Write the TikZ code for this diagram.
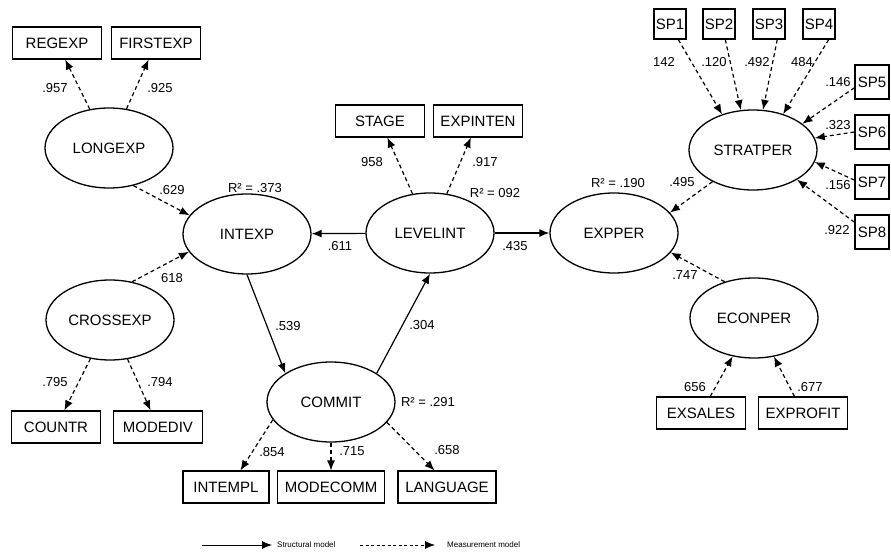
\documentclass[tikz,border=0pt]{standalone}
\usepackage{fontspec}
\setmainfont{Liberation Sans}
\usetikzlibrary{arrows.meta,shapes.geometric}

\begin{document}
\begin{tikzpicture}[x=1pt,y=-1pt,
	every node/.style={font=\fontsize{15}{18}\selectfont},
	latent/.style={ellipse, draw=black, line width=1.3pt, minimum width=128pt, minimum height=80pt, inner sep=0pt},
	obs/.style={rectangle, draw=black, line width=1.1pt, minimum width=89pt, minimum height=32pt, inner sep=0pt},
	sp/.style={obs, minimum width=32pt, minimum height=30pt},
	coef/.style={font=\fontsize{13}{15}\selectfont, inner sep=0pt},
	legend/.style={font=\fontsize{8}{10}\selectfont, inner sep=0pt, anchor=west}]
	
	\tikzset{struct/.style = {->,> = {Latex[length=10pt,width=8pt]}, line width=1.2pt},
		meas/.style = {->,> = {Latex[length=10pt,width=8pt]}, line width=1.2pt, dash pattern=on 4pt off 3pt}}
	
	\useasboundingbox (0,0) rectangle (891,556);
	
	% latent variables
	\node[latent] (longexp)  at (109,148) {LONGEXP};
	\node[latent] (crossexp) at (110,320) {CROSSEXP};
	\node[latent] (intexp)   at (247,234) {INTEXP};
	\node[latent] (levelint) at (430,233) {LEVELINT};
	\node[latent] (commit)   at (331,402) {COMMIT};
	\node[latent] (expper)   at (614,233) {EXPPER};
	\node[latent] (stratper) at (753,150) {STRATPER};
	\node[latent] (econper)  at (754,318) {ECONPER};
	
	% indicators
	\node[obs] (regexp)   at (57,43)   {REGEXP};
	\node[obs] (firstexp) at (156,43)  {FIRSTEXP};
	\node[obs] (countr)   at (56,427)  {COUNTR};
	\node[obs] (modediv)  at (158,427) {MODEDIV};
	\node[obs] (stage)    at (380,121) {STAGE};
	\node[obs] (expinten) at (478,121) {EXPINTEN};
	\node[obs, minimum width=86pt]  (intempl)  at (226,487) {INTEMPL};
	\node[obs, minimum width=107pt] (modecomm) at (331,487) {MODECOMM};
	\node[obs, minimum width=98pt]  (language) at (447,487) {LANGUAGE};
	\node[obs] (exsales)  at (701,413) {EXSALES};
	\node[obs] (exprofit) at (803,413) {EXPROFIT};
	
	\node[sp] (sp1) at (670,24) {SP1};
	\node[sp] (sp2) at (719,24) {SP2};
	\node[sp] (sp3) at (769,24) {SP3};
	\node[sp] (sp4) at (819,24) {SP4};
	\node[sp, minimum width=34pt, minimum height=34pt] (sp5) at (872,82)  {SP5};
	\node[sp, minimum width=34pt, minimum height=34pt] (sp6) at (872,132) {SP6};
	\node[sp, minimum width=34pt, minimum height=34pt] (sp7) at (872,182) {SP7};
	\node[sp, minimum width=34pt, minimum height=34pt] (sp8) at (872,232) {SP8};
	
	% coefficients
	\node[coef] (c1)  at (55,88)   {.957};
	\node[coef] (c2)  at (160,88)  {.925};
	\node[coef] (c3)  at (172,190) {.629};
	\node[coef] (c4)  at (172,278) {618};
	\node[coef] (c5)  at (55,382)  {.795};
	\node[coef] (c6)  at (160,382) {.794};
	\node[coef] (c7)  at (288,326) {.539};
	\node[coef] (c8)  at (372,162) {958};
	\node[coef] (c9)  at (485,162) {.917};
	\node[coef] (c10) at (340,246) {.611};
	\node[coef] (c11) at (515,246) {.435};
	\node[coef] (c12) at (422,325) {.304};
	\node[coef] (c13) at (272,452) {.854};
	\node[coef] (c14) at (352,451) {.715};
	\node[coef] (c15) at (447,450) {.658};
	\node[coef] (c16) at (682,182) {.495};
	\node[coef] (c17) at (685,275) {.747};
	\node[coef] (c18) at (695,387) {656};
	\node[coef] (c19) at (810,387) {.677};
	\node[coef] (c20) at (664,62)  {142};
	\node[coef] (c21) at (714,62)  {.120};
	\node[coef] (c22) at (757,62)  {.492};
	\node[coef] (c23) at (802,62)  {484};
	\node[coef] (c24) at (838,82)  {.146};
	\node[coef] (c25) at (838,125) {.323};
	\node[coef] (c26) at (838,185) {.156};
	\node[coef] (c27) at (837,230) {.922};
	
	\node[coef] (r1) at (255,188) {R² = .373};
	\node[coef] (r2) at (495,193) {R² = 092};
	\node[coef] (r3) at (428,402) {R² = .291};
	\node[coef] (r4) at (618,183) {R² = .190};
	
	% measurement paths
	\foreach \source/\dest in {longexp/regexp,longexp/firstexp,longexp.-57/intexp.162,crossexp.60/intexp.197,crossexp/countr,crossexp/modediv,levelint/stage,levelint/expinten,commit.197/intempl.49,commit/modecomm,commit.-20/language.127,sp1.-62/stratper.131,sp2.-68/stratper.107,sp3.-62/stratper.76,sp4.-58/stratper.50,sp5.198/stratper.28,sp6.west/stratper.11,sp7.174/stratper.-11,sp8.151/stratper.-34,stratper.218/expper.20,econper.129/expper.-19,exsales/econper,exprofit/econper}
	\draw[meas] (\source) to (\dest);
	
	% structural paths
	\draw[struct] (levelint) to (intexp);
	\draw[struct] (levelint) to (expper);
	\draw[struct] (intexp.south) to (commit.north west);
	\draw[struct] (commit.north east) to (levelint.south);
	
	% legend
	\coordinate (s1) at (202,545);
	\coordinate (s2) at (272,545);
	\coordinate (m1) at (360,545);
	\coordinate (m2) at (435,545);
	\draw[struct, line width=0.8pt] (s1) to (s2);
	\draw[meas, line width=0.8pt, dash pattern=on 3pt off 2.5pt] (m1) to (m2);
	\node[legend] (slabel) at (277,545) {Structural model};
	\node[legend] (mlabel) at (447,545) {Measurement model};
	
\end{tikzpicture}
\end{document}
